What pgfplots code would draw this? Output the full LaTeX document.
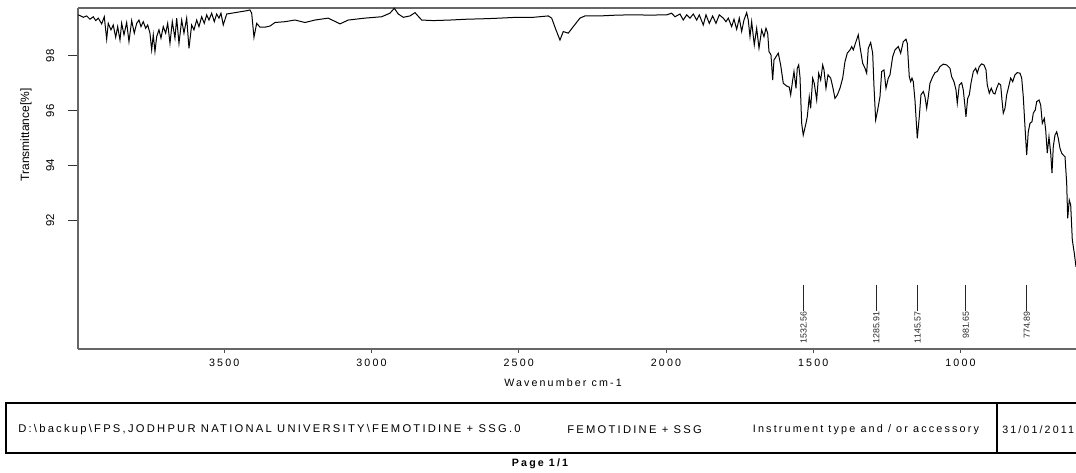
\documentclass[border=0pt]{standalone}
\usepackage{fontspec}
\setmainfont{Liberation Sans}[LetterSpace=20]
\newfontfamily\plainsans{Liberation Sans}
\usepackage{pgfplots}
\pgfplotsset{compat=1.18}
\begin{document}
\begin{tikzpicture}[x=0.75pt,y=0.75pt]
\path[use as bounding box] (0,0) rectangle (1076,473);
\begin{axis}[
  at={(58.5pt,93pt)}, anchor=south west, scale only axis,
  width=748.5pt, height=255.75pt,
  x dir=reverse, xmin=607.8, xmax=3996.6, ymin=87.30, ymax=99.75,
  separate axis lines, axis x line*=box, axis y line*=left,
  axis line style={black!60, line width=0.9pt},
  xtick={1000,1500,2000,2500,3000,3500}, ytick={92,94,96,98},
  xtick pos=bottom, ytick pos=left,
  tick align=outside,
  xtick style={black!70, line width=0.7pt, /pgfplots/major tick length=3pt},
  ytick style={black!80, line width=0.7pt, /pgfplots/major tick length=7.5pt},
  xticklabel style={font=\fontsize{8}{8}\selectfont},
  yticklabel style={rotate=90, anchor=south, font=\plainsans\fontsize{8.5}{8.5}\selectfont},
  yticklabel shift=10pt,
  scaled ticks=false,
  /pgf/number format/1000 sep={},
  /pgf/number format/assume math mode=true,
]
\addplot[black, line width=0.75pt, mark=none] coordinates {
(3995.6,99.50) (3978.6,99.41) (3967.1,99.46) (3955.9,99.34) (3944.7,99.43) (3936.5,99.29)
(3927.7,99.38) (3916.2,99.17) (3907.3,99.43) (3899.2,98.61) (3893.8,99.19) (3884.6,98.95)
(3876.8,99.13) (3868.6,98.68) (3861.8,99.07) (3854.0,98.58) (3848.3,99.19) (3840.4,98.77)
(3831.3,99.22) (3823.5,98.52) (3814.3,99.29) (3805.5,98.83) (3797.3,99.19) (3789.5,99.31)
(3782.7,99.07) (3774.9,99.25) (3766.8,99.01) (3760.0,99.13) (3752.2,98.83) (3746.4,98.22)
(3741.0,98.77) (3735.2,98.16) (3729.4,98.70) (3721.6,98.95) (3714.8,98.65) (3707.0,99.07)
(3698.9,98.83) (3692.0,99.19) (3684.2,98.46) (3676.4,99.25) (3667.3,98.65) (3661.5,99.38)
(3653.7,98.46) (3644.5,99.31) (3636.7,98.83) (3627.5,99.38) (3619.7,98.28) (3610.6,99.13)
(3602.8,98.95) (3593.6,99.31) (3585.8,99.07) (3576.6,99.43) (3567.8,99.19) (3559.6,99.50)
(3551.8,99.31) (3542.7,99.56) (3533.8,99.25) (3525.7,99.53) (3517.9,99.38) (3511.1,99.56)
(3503.3,99.13) (3491.7,99.53) (3463.5,99.58) (3440.8,99.62) (3423.8,99.65) (3412.6,99.68)
(3406.8,99.56) (3399.0,98.68) (3389.9,99.19) (3378.6,99.05) (3361.7,99.05) (3344.7,99.09)
(3327.7,99.22) (3293.8,99.25) (3259.8,99.31) (3225.8,99.22) (3191.9,99.31) (3146.7,99.38)
(3107.0,99.17) (3078.8,99.31) (3022.1,99.38) (2965.4,99.43) (2937.2,99.56) (2922.6,99.74)
(2909.0,99.53) (2892.0,99.41) (2869.3,99.46) (2852.3,99.58) (2829.6,99.31) (2790.2,99.29)
(2733.5,99.31) (2676.8,99.34) (2608.9,99.36) (2563.7,99.38) (2507.0,99.41) (2450.6,99.41)
(2399.7,99.46) (2388.2,99.38) (2373.6,98.95) (2360.0,98.58) (2348.8,98.89) (2331.8,98.83)
(2314.8,99.07) (2292.1,99.38) (2275.1,99.46) (2224.1,99.46) (2167.4,99.49) (2111.0,99.50)
(2054.4,99.49) (1997.7,99.50) (1980.7,99.56) (1969.5,99.43) (1952.5,99.53) (1941.3,99.31)
(1929.8,99.50) (1918.5,99.38) (1907.3,99.53) (1895.8,99.31) (1887.0,99.50) (1873.4,99.13)
(1864.2,99.50) (1853.0,99.19) (1841.5,99.46) (1830.3,99.19) (1819.1,99.50) (1805.5,99.38)
(1796.3,99.25) (1788.5,99.38) (1777.0,99.07) (1769.1,99.34) (1760.0,98.97) (1751.1,99.38)
(1743.0,98.89) (1735.2,99.31) (1726.0,99.58) (1720.6,99.31) (1714.8,98.70) (1709.1,99.25)
(1700.2,98.40) (1692.1,99.01) (1684.2,98.28) (1675.1,98.95) (1667.3,98.70) (1660.5,99.01)
(1654.7,98.83) (1650.3,98.16) (1643.5,98.04) (1637.7,97.12) (1633.3,97.85) (1626.5,97.97)
(1618.7,98.10) (1610.6,97.67) (1601.7,97.00) (1590.2,96.90) (1581.4,96.86) (1576.6,96.58)
(1569.8,97.12) (1565.4,97.43) (1558.6,96.82) (1554.2,97.55) (1549.4,97.67) (1545.0,97.24)
(1539.3,95.54) (1533.9,95.11) (1524.6,95.54) (1520.2,95.78) (1513.5,96.51) (1508.7,96.09)
(1501.9,97.19) (1496.5,97.00) (1488.3,96.39) (1481.5,97.37) (1474.7,97.12) (1467.9,97.67)
(1463.5,97.49) (1456.7,96.82) (1449.9,97.31) (1440.8,97.19) (1434.0,96.88) (1426.2,96.45)
(1418.4,96.57) (1409.2,96.82) (1400.0,97.19) (1392.2,97.79) (1384.4,98.10) (1375.2,98.22)
(1369.5,98.34) (1364.0,98.22) (1354.9,98.52) (1347.1,98.77) (1341.3,98.34) (1332.1,97.73)
(1324.3,97.55) (1318.6,97.37) (1313.1,98.28) (1305.0,98.49) (1298.2,98.10) (1293.7,96.88)
(1288.0,95.66) (1281.2,96.03) (1273.4,96.51) (1267.6,97.43) (1259.8,97.49) (1253.0,96.82)
(1245.2,97.19) (1239.4,97.31) (1230.3,97.97) (1222.4,98.22) (1211.2,98.34) (1203.1,98.10)
(1194.3,98.52) (1185.1,98.61) (1180.7,98.46) (1173.9,97.24) (1169.1,97.06) (1164.7,97.19)
(1160.3,97.06) (1154.6,96.39) (1146.7,94.99) (1139.9,95.78) (1134.2,96.58) (1126.3,96.70)
(1120.6,96.51) (1114.8,96.09) (1109.4,96.51) (1103.6,97.00) (1094.4,97.24) (1086.6,97.39)
(1078.8,97.43) (1069.6,97.61) (1058.4,97.70) (1046.9,97.67) (1035.7,97.55) (1029.9,97.24)
(1022.1,97.06) (1015.3,96.76) (1010.9,96.27) (1004.1,96.94) (996.0,97.02) (990.5,96.76)
(984.7,96.15) (981.4,95.78) (975.6,96.45) (970.1,96.58) (964.4,97.00) (956.5,97.43)
(948.4,97.55) (943.0,97.37) (936.2,97.61) (928.0,97.71) (920.2,97.67) (913.4,97.49)
(909.0,96.94) (902.2,96.64) (895.4,96.82) (888.6,96.64) (882.9,96.61) (877.1,96.82)
(870.3,97.00) (863.5,96.94) (859.1,96.39) (854.7,95.91) (848.9,96.09) (843.1,96.58)
(836.4,96.88) (829.6,97.19) (822.8,97.06) (815.0,97.31) (807.2,97.39) (798.0,97.37)
(792.2,97.19) (786.8,96.51) (781.0,95.42) (775.3,94.38) (769.8,95.23) (764.0,95.54)
(757.2,95.60) (752.8,95.91) (746.0,96.03) (741.3,96.33) (733.4,96.39) (727.7,96.21)
(722.2,95.54) (715.4,95.72) (710.7,95.30) (705.3,94.45) (699.5,95.05) (693.7,94.45)
(689.3,93.72) (684.9,94.69) (679.1,95.11) (673.3,95.23) (667.9,94.99) (662.2,94.63)
(656.4,94.45) (650.9,94.38) (645.1,94.32) (639.4,93.35) (636.0,92.07) (630.6,92.74)
(625.8,92.56) (620.3,91.28) (613.6,90.80) (607.8,90.30)
};
\foreach \w in {1532.56,1285.91,1145.57,981.65,774.89}{
  \edef\tmp{\noexpand\draw[black!85, line width=0.6pt] (axis cs:\w,89.64) -- (axis cs:\w,88.70)
    node[rotate=90, anchor=east, inner sep=0.6pt, font=\noexpand\plainsans\noexpand\fontsize{6.6}{6.6}\noexpand\selectfont] {\w};}
  \tmp
}
\end{axis}
\node[rotate=90, font=\plainsans\fontsize{9}{9}\selectfont] at (26,338) {Transmittance[\%]};
\node[anchor=base, font=\fontsize{8}{8}\selectfont] at (563,86.3) {Wavenumber cm-1};
\draw[black, line width=1.1pt] (6,70) rectangle (1085,20);
\draw[black, line width=1.1pt] (997,70) -- (997,20);
\node[anchor=west, inner sep=0pt, font=\fontsize{8.4}{8.4}\selectfont] at (18,43) {D:\textbackslash backup\textbackslash FPS,JODHPUR NATIONAL UNIVERSITY\textbackslash FEMOTIDINE + SSG.0};
\node[anchor=west, inner sep=0pt, font=\fontsize{8.4}{8.4}\selectfont] at (567,43) {FEMOTIDINE + SSG};
\node[anchor=west, inner sep=0pt, font=\fontsize{8.1}{8.1}\selectfont] at (752.6,43) {Instrument type and / or accessory};
\node[anchor=west, inner sep=0pt, font=\fontsize{8}{8}\selectfont] at (1002,43) {31/01/2011};
\node[font=\bfseries\fontsize{8}{8}\selectfont] at (540,9) {Page 1/1};
\end{tikzpicture}
\end{document}
